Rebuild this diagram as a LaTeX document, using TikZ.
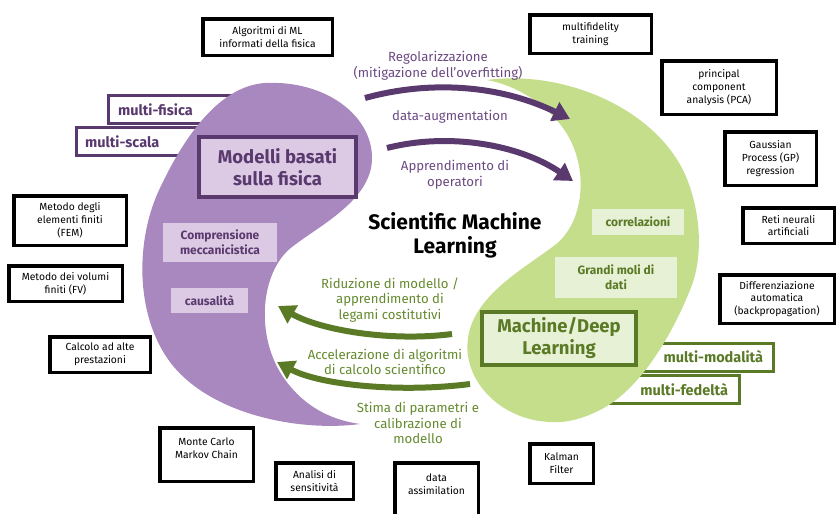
\documentclass[tikz,border=0pt]{standalone}
\usepackage{fontspec}
\setmainfont{Fira Sans}
\usetikzlibrary{arrows.meta}
\definecolor{pfill}{HTML}{A888BF}
\definecolor{pdark}{HTML}{5A3A6E}
\definecolor{plight}{HTML}{DCCAE4}
\definecolor{ptext}{HTML}{6B4A82}
\definecolor{gfill}{HTML}{C4DE8C}
\definecolor{gdark}{HTML}{5B7A26}
\definecolor{glight}{HTML}{E6F1D5}
\definecolor{gtext}{HTML}{648A2E}
\begin{document}
\begin{tikzpicture}[x=1pt,y=-1pt,
  blackbox/.style={draw=black, line width=3.5pt, fill=white, align=center, inner sep=0pt,
    font=\fontsize{10.3}{12.8}\selectfont},
  poutline/.style={draw=pdark, line width=3pt, fill=white, text=pdark, minimum height=28,
    font=\fontsize{14.5}{16}\selectfont\bfseries, inner ysep=0pt},
  goutline/.style={draw=gdark, line width=3pt, fill=white, text=gdark, minimum height=28,
    font=\fontsize{14.5}{16}\selectfont\bfseries, inner ysep=0pt},
  plbox/.style={fill=plight, text=pdark, align=center, inner sep=0pt,
    font=\fontsize{12}{15}\selectfont\bfseries},
  glbox/.style={fill=glight, text=gdark, align=center, inner sep=0pt,
    font=\fontsize{12}{15}\selectfont\bfseries},
  pmain/.style={draw=pdark, fill=plight, text=pdark, line width=4pt, align=center, inner sep=0pt,
    font=\fontsize{18.5}{22}\selectfont\bfseries},
  gmain/.style={draw=gdark, fill=glight, text=gdark, line width=4pt, align=center, inner sep=0pt,
    font=\fontsize{18.5}{22}\selectfont\bfseries},
  plabel/.style={text=ptext, align=center, inner sep=0pt, font=\fontsize{13.2}{16}\selectfont},
  glabel/.style={text=gtext, align=center, inner sep=0pt, font=\fontsize{13.2}{15.5}\selectfont},
  parrow/.style={draw=pdark, line width=6pt, -{Triangle[length=17pt,width=20pt]}},
  garrow/.style={draw=gdark, line width=6pt, -{Triangle[length=17pt,width=20pt]}}
]
\useasboundingbox (0,0) rectangle (838,514);
\clip (0,0) rectangle (838,514);

% outlined boxes behind shapes
\node[poutline, anchor=west, text width=130, inner xsep=10, align=left] (mfis) at (106.5,109.5) {multi-fisica};
\node[poutline, anchor=west, text width=130, inner xsep=9, align=left] (msca) at (74.5,141.5) {multi-scala};
\node[goutline, anchor=east, text width=130, inner xsep=10, align=right] (mmod) at (774.5,357) {multi-modalità};
\node[goutline, anchor=east, text width=120, inner xsep=11, align=right] (mfed) at (740.5,389.5) {multi-fedeltà};

% purple shape
\path[fill=pfill] (265,83) .. controls (325,80) and (372,115) .. (372,158)
  .. controls (372,200) and (320,225) .. (292,247)
  .. controls (262,270) and (255,330) .. (280,372)
  .. controls (300,405) and (330,420) .. (360,424)
  .. controls (300,432) and (210,415) .. (170,362)
  .. controls (135,315) and (135,240) .. (160,188)
  .. controls (185,135) and (220,86) .. (265,83) -- cycle;

% green shape
\path[fill=gfill] (487,80) .. controls (560,70) and (650,105) .. (683,170)
  .. controls (700,205) and (705,255) .. (690,290)
  .. controls (672,335) and (640,390) .. (600,410)
  .. controls (580,420) and (565,423) .. (550,422)
  .. controls (500,420) and (462,380) .. (468,338)
  .. controls (474,295) and (525,268) .. (555,245)
  .. controls (585,222) and (590,165) .. (563,128)
  .. controls (545,103) and (515,85) .. (487,80) -- cycle;

% light boxes
\node[plbox, minimum width=114, minimum height=39] (comp) at (220,242.5) {Comprensione\\meccanicistica};
\node[plbox, minimum width=77, minimum height=25] (caus) at (209.5,300.5) {causalità};
\node[glbox, minimum width=92, minimum height=26] (corr) at (638,222) {correlazioni};
\node[glbox, minimum width=122, minimum height=41] (grandi) at (616,277.5) {Grandi moli di\\dati};

% main boxes
\node[pmain, minimum width=157, minimum height=60] (modelli) at (277.5,167) {Modelli basati\\sulla fisica};
\node[gmain, minimum width=154, minimum height=53] (mdl) at (559,338.5) {Machine/Deep\\Learning};

% title
\node[align=center, inner sep=0pt, font=\fontsize{21}{24}\selectfont\bfseries] (title) at (455,235) {Scientific Machine\\Learning};

% arrows
\coordinate (a1s) at (365,98);   \coordinate (a1e) at (570,119);
\coordinate (a2s) at (387,148);  \coordinate (a2e) at (573,181);
\coordinate (a3s) at (452,334);  \coordinate (a3e) at (278,306);
\coordinate (a4s) at (470,384);  \coordinate (a4e) at (277,362);
\draw[parrow] (a1s) .. controls (430,80) and (500,85) .. (a1e);
\draw[parrow] (a2s) .. controls (450,132) and (520,145) .. (a2e);
\draw[garrow] (a3s) .. controls (390,342) and (320,330) .. (a3e);
\draw[garrow] (a4s) .. controls (400,393) and (320,385) .. (a4e);

% arrow labels
\node[plabel] (lreg) at (438,66) {Regolarizzazione\\(mitigazione dell’overfitting)};
\node[plabel] (laug) at (450,117) {data-augmentation};
\node[plabel] (lapp) at (455,175) {Apprendimento di\\operatori};
\node[glabel] (lrid) at (390,300) {Riduzione di modello /\\apprendimento di\\legami costitutivi};
\node[glabel] (lacc) at (385,362) {Accelerazione di algoritmi\\di calcolo scientifico};
\node[glabel] (lsti) at (418,423) {Stima di parametri e\\calibrazione di\\modello};

% black boxes
\node[blackbox, minimum width=129.5, minimum height=36.5] (algo) at (267.5,37) {Algoritmi di ML\\informati della fisica};
\node[blackbox, minimum width=121.5, minimum height=38.5] (mft) at (590.5,34) {multifidelity\\training};
\node[blackbox, minimum width=114.5, minimum height=53.5] (pca) at (719,87.5) {principal\\component\\analysis (PCA)};
\node[blackbox, minimum width=91.5, minimum height=53.5] (gp) at (770.5,158.5) {Gaussian\\Process (GP)\\regression};
\node[blackbox, minimum width=91.5, minimum height=35.5] (reti) at (788.5,225.5) {Reti neurali\\artificiali};
\node[blackbox, minimum width=112.5, minimum height=49.5] (fem) at (70,220.5) {Metodo degli\\elementi finiti\\(FEM)};
\node[blackbox, minimum width=113.5, minimum height=35.5] (fv) at (65.5,283.5) {Metodo dei volumi\\finiti (FV)};
\node[blackbox, minimum width=100.5, minimum height=35.5] (hpc) at (100,354.5) {Calcolo ad alte\\prestazioni};
\node[blackbox, minimum width=93.5, minimum height=53.5] (mcmc) at (206.5,454.5) {Monte Carlo\\Markov Chain\\\mbox{}};
\node[blackbox, minimum width=77.5, minimum height=36.5] (sens) at (314.5,481) {Analisi di\\sensitività};
\node[blackbox, minimum width=83.5, minimum height=55.5] (da) at (436.5,490.5) {data\\assimilation\\\mbox{}};
\node[blackbox, minimum width=63.5, minimum height=39.5] (kal) at (561.5,463.5) {Kalman\\Filter};
\node[blackbox, minimum width=114.5, minimum height=48.5] (diff) at (777,299) {Differenziazione\\automatica\\(backpropagation)};
\end{tikzpicture}
\end{document}
